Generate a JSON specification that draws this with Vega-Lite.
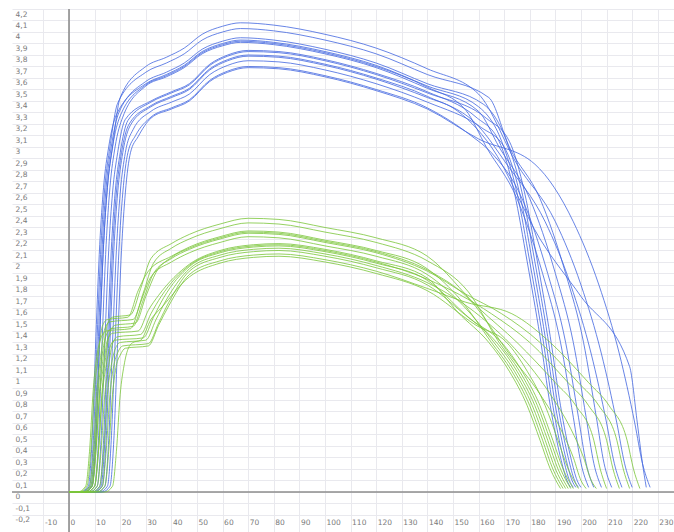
{
"$schema": "https://vega.github.io/schema/vega-lite/v6.json",
"width": 662, "height": 523,
"autosize": {"type": "none"},
"padding": {"left": 12, "top": 9, "right": 0, "bottom": 0},
"config": {"view": {"stroke": null}, "font": "DejaVu Sans"},
"datasets": {
"curves": [
{"k":"B1","x":0,"y":0},{"k":"B1","x":6,"y":0},{"k":"B1","x":9,"y":0.05},{"k":"B1","x":10.5,"y":0.45},{"k":"B1","x":12,"y":1.35},{"k":"B1","x":13.5,"y":2.15},{"k":"B1","x":15,"y":2.65},{"k":"B1","x":17,"y":3.0},{"k":"B1","x":20,"y":3.43},{"k":"B1","x":30,"y":3.70},{"k":"B1","x":38,"y":3.78},{"k":"B1","x":45,"y":3.86},{"k":"B1","x":52,"y":3.98},{"k":"B1","x":60,"y":4.05},{"k":"B1","x":67,"y":4.08},{"k":"B1","x":80,"y":4.06},{"k":"B1","x":100,"y":3.98},{"k":"B1","x":120,"y":3.86},{"k":"B1","x":140,"y":3.68},{"k":"B1","x":160,"y":3.46},{"k":"B1","x":175,"y":2.85},{"k":"B1","x":190,"y":2.35},{"k":"B1","x":200,"y":1.8},{"k":"B1","x":208,"y":1.2},{"k":"B1","x":214,"y":0.6},{"k":"B1","x":217,"y":0.25},{"k":"B1","x":220,"y":0.04},
{"k":"B2","x":0,"y":0},{"k":"B2","x":5,"y":0},{"k":"B2","x":8,"y":0.05},{"k":"B2","x":9.5,"y":0.45},{"k":"B2","x":11,"y":1.35},{"k":"B2","x":12.5,"y":2.15},{"k":"B2","x":14,"y":2.65},{"k":"B2","x":16,"y":3.0},{"k":"B2","x":19,"y":3.38},{"k":"B2","x":30,"y":3.65},{"k":"B2","x":38,"y":3.73},{"k":"B2","x":45,"y":3.81},{"k":"B2","x":52,"y":3.93},{"k":"B2","x":60,"y":4.0},{"k":"B2","x":67,"y":4.03},{"k":"B2","x":80,"y":4.01},{"k":"B2","x":100,"y":3.93},{"k":"B2","x":120,"y":3.81},{"k":"B2","x":140,"y":3.63},{"k":"B2","x":164,"y":3.43},{"k":"B2","x":172,"y":3.0},{"k":"B2","x":184,"y":2.55},{"k":"B2","x":194,"y":1.9},{"k":"B2","x":201,"y":1.3},{"k":"B2","x":206,"y":0.65},{"k":"B2","x":209,"y":0.25},{"k":"B2","x":212,"y":0.04},
{"k":"B3","x":0,"y":0},{"k":"B3","x":4.5,"y":0},{"k":"B3","x":7.5,"y":0.05},{"k":"B3","x":9,"y":0.45},{"k":"B3","x":10.5,"y":1.35},{"k":"B3","x":12,"y":2.15},{"k":"B3","x":13.5,"y":2.65},{"k":"B3","x":15.5,"y":3.0},{"k":"B3","x":18.5,"y":3.28},{"k":"B3","x":30,"y":3.55},{"k":"B3","x":38,"y":3.63},{"k":"B3","x":45,"y":3.71},{"k":"B3","x":52,"y":3.83},{"k":"B3","x":60,"y":3.9},{"k":"B3","x":67,"y":3.93},{"k":"B3","x":80,"y":3.91},{"k":"B3","x":100,"y":3.83},{"k":"B3","x":120,"y":3.71},{"k":"B3","x":140,"y":3.53},{"k":"B3","x":160,"y":3.35},{"k":"B3","x":169,"y":3.05},{"k":"B3","x":175,"y":2.6},{"k":"B3","x":180,"y":2.0},{"k":"B3","x":185,"y":1.35},{"k":"B3","x":189,"y":0.75},{"k":"B3","x":193,"y":0.3},{"k":"B3","x":195.5,"y":0.1},{"k":"B3","x":197,"y":0.04},
{"k":"B4","x":0,"y":0},{"k":"B4","x":5.5,"y":0},{"k":"B4","x":8.5,"y":0.05},{"k":"B4","x":10,"y":0.45},{"k":"B4","x":11.5,"y":1.35},{"k":"B4","x":13,"y":2.15},{"k":"B4","x":14.5,"y":2.65},{"k":"B4","x":16.5,"y":3.0},{"k":"B4","x":19.5,"y":3.30},{"k":"B4","x":30,"y":3.57},{"k":"B4","x":38,"y":3.65},{"k":"B4","x":45,"y":3.73},{"k":"B4","x":52,"y":3.85},{"k":"B4","x":60,"y":3.92},{"k":"B4","x":67,"y":3.95},{"k":"B4","x":80,"y":3.93},{"k":"B4","x":100,"y":3.85},{"k":"B4","x":120,"y":3.73},{"k":"B4","x":140,"y":3.55},{"k":"B4","x":162,"y":3.37},{"k":"B4","x":171,"y":3.05},{"k":"B4","x":177,"y":2.6},{"k":"B4","x":182,"y":2.0},{"k":"B4","x":187,"y":1.35},{"k":"B4","x":191,"y":0.75},{"k":"B4","x":195,"y":0.3},{"k":"B4","x":197.5,"y":0.1},{"k":"B4","x":199,"y":0.04},
{"k":"B5","x":0,"y":0},{"k":"B5","x":6,"y":0},{"k":"B5","x":9,"y":0.05},{"k":"B5","x":10.5,"y":0.45},{"k":"B5","x":12,"y":1.35},{"k":"B5","x":13.5,"y":2.15},{"k":"B5","x":15,"y":2.65},{"k":"B5","x":17,"y":3.0},{"k":"B5","x":20,"y":3.27},{"k":"B5","x":30,"y":3.54},{"k":"B5","x":38,"y":3.62},{"k":"B5","x":45,"y":3.70},{"k":"B5","x":52,"y":3.82},{"k":"B5","x":60,"y":3.89},{"k":"B5","x":67,"y":3.92},{"k":"B5","x":80,"y":3.90},{"k":"B5","x":100,"y":3.82},{"k":"B5","x":120,"y":3.70},{"k":"B5","x":140,"y":3.52},{"k":"B5","x":155,"y":3.32},{"k":"B5","x":163,"y":3.0},{"k":"B5","x":175,"y":2.55},{"k":"B5","x":185,"y":1.9},{"k":"B5","x":192,"y":1.3},{"k":"B5","x":197,"y":0.65},{"k":"B5","x":200,"y":0.25},{"k":"B5","x":203,"y":0.04},
{"k":"B6","x":0,"y":0},{"k":"B6","x":7,"y":0},{"k":"B6","x":10,"y":0.05},{"k":"B6","x":11.5,"y":0.45},{"k":"B6","x":13,"y":1.35},{"k":"B6","x":14.5,"y":2.15},{"k":"B6","x":16,"y":2.65},{"k":"B6","x":18,"y":3.0},{"k":"B6","x":21,"y":3.26},{"k":"B6","x":30,"y":3.53},{"k":"B6","x":38,"y":3.61},{"k":"B6","x":45,"y":3.69},{"k":"B6","x":52,"y":3.81},{"k":"B6","x":60,"y":3.88},{"k":"B6","x":67,"y":3.91},{"k":"B6","x":80,"y":3.89},{"k":"B6","x":100,"y":3.81},{"k":"B6","x":120,"y":3.69},{"k":"B6","x":140,"y":3.51},{"k":"B6","x":160,"y":3.31},{"k":"B6","x":168,"y":3.0},{"k":"B6","x":180,"y":2.55},{"k":"B6","x":190,"y":1.9},{"k":"B6","x":197,"y":1.3},{"k":"B6","x":202,"y":0.65},{"k":"B6","x":205,"y":0.25},{"k":"B6","x":208,"y":0.04},
{"k":"B7","x":0,"y":0},{"k":"B7","x":8,"y":0},{"k":"B7","x":11,"y":0.05},{"k":"B7","x":12.5,"y":0.45},{"k":"B7","x":14,"y":1.3},{"k":"B7","x":15.5,"y":2.1},{"k":"B7","x":17,"y":2.6},{"k":"B7","x":19,"y":2.95},{"k":"B7","x":22,"y":3.24},{"k":"B7","x":32,"y":3.40},{"k":"B7","x":40,"y":3.48},{"k":"B7","x":47,"y":3.55},{"k":"B7","x":55,"y":3.72},{"k":"B7","x":62,"y":3.80},{"k":"B7","x":70,"y":3.84},{"k":"B7","x":82,"y":3.83},{"k":"B7","x":100,"y":3.76},{"k":"B7","x":120,"y":3.64},{"k":"B7","x":140,"y":3.48},{"k":"B7","x":159,"y":3.26},{"k":"B7","x":168,"y":3.05},{"k":"B7","x":174,"y":2.6},{"k":"B7","x":179,"y":2.0},{"k":"B7","x":184,"y":1.35},{"k":"B7","x":188,"y":0.75},{"k":"B7","x":192,"y":0.3},{"k":"B7","x":194.5,"y":0.1},{"k":"B7","x":196,"y":0.04},
{"k":"B8","x":0,"y":0},{"k":"B8","x":9,"y":0},{"k":"B8","x":12,"y":0.05},{"k":"B8","x":13.5,"y":0.45},{"k":"B8","x":15,"y":1.3},{"k":"B8","x":16.5,"y":2.1},{"k":"B8","x":18,"y":2.6},{"k":"B8","x":20,"y":2.95},{"k":"B8","x":23,"y":3.23},{"k":"B8","x":32,"y":3.39},{"k":"B8","x":40,"y":3.47},{"k":"B8","x":47,"y":3.54},{"k":"B8","x":55,"y":3.71},{"k":"B8","x":62,"y":3.79},{"k":"B8","x":70,"y":3.83},{"k":"B8","x":82,"y":3.82},{"k":"B8","x":100,"y":3.75},{"k":"B8","x":120,"y":3.63},{"k":"B8","x":140,"y":3.47},{"k":"B8","x":163,"y":3.25},{"k":"B8","x":172,"y":3.05},{"k":"B8","x":178,"y":2.6},{"k":"B8","x":183,"y":2.0},{"k":"B8","x":188,"y":1.35},{"k":"B8","x":192,"y":0.75},{"k":"B8","x":196,"y":0.3},{"k":"B8","x":198.5,"y":0.1},{"k":"B8","x":200,"y":0.04},
{"k":"B9","x":0,"y":0},{"k":"B9","x":9.5,"y":0},{"k":"B9","x":12.5,"y":0.05},{"k":"B9","x":14,"y":0.45},{"k":"B9","x":15.5,"y":1.3},{"k":"B9","x":17,"y":2.1},{"k":"B9","x":18.5,"y":2.6},{"k":"B9","x":20.5,"y":2.95},{"k":"B9","x":23.5,"y":3.20},{"k":"B9","x":32,"y":3.36},{"k":"B9","x":40,"y":3.44},{"k":"B9","x":47,"y":3.51},{"k":"B9","x":55,"y":3.68},{"k":"B9","x":62,"y":3.76},{"k":"B9","x":70,"y":3.80},{"k":"B9","x":82,"y":3.79},{"k":"B9","x":100,"y":3.72},{"k":"B9","x":120,"y":3.60},{"k":"B9","x":140,"y":3.44},{"k":"B9","x":160,"y":3.18},{"k":"B9","x":171,"y":2.85},{"k":"B9","x":186,"y":2.35},{"k":"B9","x":196,"y":1.8},{"k":"B9","x":204,"y":1.2},{"k":"B9","x":210,"y":0.6},{"k":"B9","x":213,"y":0.25},{"k":"B9","x":216,"y":0.04},
{"k":"B10","x":0,"y":0},{"k":"B10","x":10,"y":0},{"k":"B10","x":13,"y":0.05},{"k":"B10","x":14.5,"y":0.45},{"k":"B10","x":16,"y":1.3},{"k":"B10","x":17.5,"y":2.1},{"k":"B10","x":19,"y":2.6},{"k":"B10","x":21,"y":2.95},{"k":"B10","x":24,"y":3.19},{"k":"B10","x":32,"y":3.35},{"k":"B10","x":40,"y":3.43},{"k":"B10","x":47,"y":3.50},{"k":"B10","x":55,"y":3.67},{"k":"B10","x":62,"y":3.75},{"k":"B10","x":70,"y":3.79},{"k":"B10","x":82,"y":3.78},{"k":"B10","x":100,"y":3.71},{"k":"B10","x":120,"y":3.59},{"k":"B10","x":140,"y":3.43},{"k":"B10","x":150,"y":3.34},{"k":"B10","x":165,"y":3.0},{"k":"B10","x":184,"y":2.2},{"k":"B10","x":200,"y":1.7},{"k":"B10","x":219,"y":1.09},{"k":"B10","x":222,"y":0.6},{"k":"B10","x":224,"y":0.25},{"k":"B10","x":225.5,"y":0.04},
{"k":"B11","x":0,"y":0},{"k":"B11","x":11,"y":0},{"k":"B11","x":14,"y":0.05},{"k":"B11","x":15.5,"y":0.45},{"k":"B11","x":17,"y":1.3},{"k":"B11","x":18.5,"y":2.1},{"k":"B11","x":20,"y":2.6},{"k":"B11","x":22,"y":2.95},{"k":"B11","x":25,"y":3.15},{"k":"B11","x":32,"y":3.31},{"k":"B11","x":40,"y":3.39},{"k":"B11","x":47,"y":3.46},{"k":"B11","x":55,"y":3.63},{"k":"B11","x":62,"y":3.71},{"k":"B11","x":70,"y":3.75},{"k":"B11","x":82,"y":3.74},{"k":"B11","x":100,"y":3.67},{"k":"B11","x":120,"y":3.55},{"k":"B11","x":140,"y":3.39},{"k":"B11","x":161,"y":3.17},{"k":"B11","x":170,"y":3.0},{"k":"B11","x":176,"y":2.6},{"k":"B11","x":181,"y":2.0},{"k":"B11","x":186,"y":1.35},{"k":"B11","x":190,"y":0.75},{"k":"B11","x":194,"y":0.3},{"k":"B11","x":196.5,"y":0.1},{"k":"B11","x":198,"y":0.04},
{"k":"B12","x":0,"y":0},{"k":"B12","x":12,"y":0},{"k":"B12","x":15,"y":0.05},{"k":"B12","x":16.5,"y":0.45},{"k":"B12","x":18,"y":1.3},{"k":"B12","x":19.5,"y":2.1},{"k":"B12","x":21,"y":2.6},{"k":"B12","x":23,"y":2.95},{"k":"B12","x":26,"y":3.10},{"k":"B12","x":32,"y":3.26},{"k":"B12","x":40,"y":3.34},{"k":"B12","x":47,"y":3.41},{"k":"B12","x":55,"y":3.58},{"k":"B12","x":62,"y":3.66},{"k":"B12","x":70,"y":3.70},{"k":"B12","x":82,"y":3.69},{"k":"B12","x":100,"y":3.62},{"k":"B12","x":120,"y":3.50},{"k":"B12","x":140,"y":3.34},{"k":"B12","x":157,"y":3.10},{"k":"B12","x":165,"y":2.95},{"k":"B12","x":177,"y":2.55},{"k":"B12","x":187,"y":1.9},{"k":"B12","x":194,"y":1.3},{"k":"B12","x":199,"y":0.65},{"k":"B12","x":202,"y":0.25},{"k":"B12","x":205,"y":0.04},
{"k":"B13","x":0,"y":0},{"k":"B13","x":13,"y":0},{"k":"B13","x":16,"y":0.05},{"k":"B13","x":17.5,"y":0.45},{"k":"B13","x":19,"y":1.3},{"k":"B13","x":20.5,"y":2.1},{"k":"B13","x":22,"y":2.6},{"k":"B13","x":24,"y":2.95},{"k":"B13","x":27,"y":3.09},{"k":"B13","x":32,"y":3.25},{"k":"B13","x":40,"y":3.33},{"k":"B13","x":47,"y":3.40},{"k":"B13","x":55,"y":3.57},{"k":"B13","x":62,"y":3.65},{"k":"B13","x":70,"y":3.69},{"k":"B13","x":82,"y":3.68},{"k":"B13","x":100,"y":3.61},{"k":"B13","x":120,"y":3.49},{"k":"B13","x":140,"y":3.33},{"k":"B13","x":160,"y":3.07},{"k":"B13","x":182,"y":2.85},{"k":"B13","x":197,"y":2.35},{"k":"B13","x":207,"y":1.8},{"k":"B13","x":215,"y":1.2},{"k":"B13","x":221,"y":0.6},{"k":"B13","x":224,"y":0.25},{"k":"B13","x":227,"y":0.04},
{"k":"G1","x":0,"y":0},{"k":"G1","x":6,"y":0},{"k":"G1","x":9,"y":0.05},{"k":"G1","x":10.5,"y":0.35},{"k":"G1","x":12,"y":0.9},{"k":"G1","x":13.5,"y":1.2},{"k":"G1","x":15,"y":1.46},{"k":"G1","x":17,"y":1.52},{"k":"G1","x":24,"y":1.54},{"k":"G1","x":28,"y":1.77},{"k":"G1","x":32,"y":2.03},{"k":"G1","x":40,"y":2.16},{"k":"G1","x":47,"y":2.24},{"k":"G1","x":59,"y":2.33},{"k":"G1","x":70,"y":2.38},{"k":"G1","x":82,"y":2.37},{"k":"G1","x":100,"y":2.30},{"k":"G1","x":120,"y":2.21},{"k":"G1","x":140,"y":2.05},{"k":"G1","x":160,"y":1.6},{"k":"G1","x":175,"y":1.3},{"k":"G1","x":190,"y":0.95},{"k":"G1","x":198,"y":0.75},{"k":"G1","x":205,"y":0.45},{"k":"G1","x":207.5,"y":0.2},{"k":"G1","x":210,"y":0.03},
{"k":"G2","x":0,"y":0},{"k":"G2","x":5,"y":0},{"k":"G2","x":8,"y":0.05},{"k":"G2","x":9.5,"y":0.35},{"k":"G2","x":11,"y":0.9},{"k":"G2","x":12.5,"y":1.2},{"k":"G2","x":14,"y":1.42},{"k":"G2","x":16,"y":1.48},{"k":"G2","x":25,"y":1.50},{"k":"G2","x":29,"y":1.73},{"k":"G2","x":33,"y":1.99},{"k":"G2","x":40,"y":2.12},{"k":"G2","x":47,"y":2.20},{"k":"G2","x":59,"y":2.29},{"k":"G2","x":70,"y":2.34},{"k":"G2","x":82,"y":2.33},{"k":"G2","x":100,"y":2.26},{"k":"G2","x":120,"y":2.17},{"k":"G2","x":140,"y":2.01},{"k":"G2","x":156,"y":1.74},{"k":"G2","x":168,"y":1.3},{"k":"G2","x":176,"y":1.05},{"k":"G2","x":183,"y":0.75},{"k":"G2","x":188,"y":0.45},{"k":"G2","x":192,"y":0.2},{"k":"G2","x":196,"y":0.03},
{"k":"G3","x":0,"y":0},{"k":"G3","x":4,"y":0},{"k":"G3","x":7,"y":0.05},{"k":"G3","x":8.5,"y":0.35},{"k":"G3","x":10,"y":0.9},{"k":"G3","x":11.5,"y":1.2},{"k":"G3","x":13,"y":1.44},{"k":"G3","x":15,"y":1.50},{"k":"G3","x":23,"y":1.52},{"k":"G3","x":27,"y":1.75},{"k":"G3","x":31,"y":1.92},{"k":"G3","x":40,"y":2.05},{"k":"G3","x":47,"y":2.13},{"k":"G3","x":59,"y":2.22},{"k":"G3","x":70,"y":2.27},{"k":"G3","x":82,"y":2.26},{"k":"G3","x":100,"y":2.19},{"k":"G3","x":120,"y":2.10},{"k":"G3","x":140,"y":1.94},{"k":"G3","x":153,"y":1.67},{"k":"G3","x":165,"y":1.3},{"k":"G3","x":173,"y":1.05},{"k":"G3","x":180,"y":0.75},{"k":"G3","x":185,"y":0.45},{"k":"G3","x":189,"y":0.2},{"k":"G3","x":193,"y":0.03},
{"k":"G4","x":0,"y":0},{"k":"G4","x":7,"y":0},{"k":"G4","x":10,"y":0.05},{"k":"G4","x":11.5,"y":0.35},{"k":"G4","x":13,"y":0.9},{"k":"G4","x":14.5,"y":1.2},{"k":"G4","x":16,"y":1.39},{"k":"G4","x":18,"y":1.45},{"k":"G4","x":26,"y":1.47},{"k":"G4","x":30,"y":1.70},{"k":"G4","x":34,"y":1.91},{"k":"G4","x":40,"y":2.04},{"k":"G4","x":47,"y":2.12},{"k":"G4","x":59,"y":2.21},{"k":"G4","x":70,"y":2.26},{"k":"G4","x":82,"y":2.25},{"k":"G4","x":100,"y":2.18},{"k":"G4","x":120,"y":2.09},{"k":"G4","x":140,"y":1.93},{"k":"G4","x":157,"y":1.66},{"k":"G4","x":172,"y":1.2},{"k":"G4","x":184,"y":0.85},{"k":"G4","x":192,"y":0.55},{"k":"G4","x":197,"y":0.3},{"k":"G4","x":200,"y":0.1},{"k":"G4","x":202,"y":0.03},
{"k":"G5","x":0,"y":0},{"k":"G5","x":5.5,"y":0},{"k":"G5","x":8.5,"y":0.05},{"k":"G5","x":10,"y":0.35},{"k":"G5","x":11.5,"y":0.9},{"k":"G5","x":13,"y":1.2},{"k":"G5","x":14.5,"y":1.36},{"k":"G5","x":16.5,"y":1.42},{"k":"G5","x":25,"y":1.44},{"k":"G5","x":29,"y":1.67},{"k":"G5","x":33,"y":1.90},{"k":"G5","x":40,"y":2.03},{"k":"G5","x":47,"y":2.11},{"k":"G5","x":59,"y":2.20},{"k":"G5","x":70,"y":2.25},{"k":"G5","x":82,"y":2.24},{"k":"G5","x":100,"y":2.17},{"k":"G5","x":120,"y":2.08},{"k":"G5","x":140,"y":1.92},{"k":"G5","x":155,"y":1.72},{"k":"G5","x":169,"y":1.55},{"k":"G5","x":184,"y":1.3},{"k":"G5","x":199,"y":0.95},{"k":"G5","x":207,"y":0.75},{"k":"G5","x":214,"y":0.45},{"k":"G5","x":216.5,"y":0.2},{"k":"G5","x":219,"y":0.03},
{"k":"G6","x":0,"y":0},{"k":"G6","x":3.5,"y":0},{"k":"G6","x":6.5,"y":0.05},{"k":"G6","x":8,"y":0.35},{"k":"G6","x":9.5,"y":0.9},{"k":"G6","x":11,"y":1.2},{"k":"G6","x":12.5,"y":1.34},{"k":"G6","x":14.5,"y":1.40},{"k":"G6","x":24,"y":1.42},{"k":"G6","x":28,"y":1.65},{"k":"G6","x":32,"y":1.87},{"k":"G6","x":40,"y":2.0},{"k":"G6","x":47,"y":2.08},{"k":"G6","x":59,"y":2.17},{"k":"G6","x":70,"y":2.22},{"k":"G6","x":82,"y":2.21},{"k":"G6","x":100,"y":2.14},{"k":"G6","x":120,"y":2.05},{"k":"G6","x":140,"y":1.89},{"k":"G6","x":154,"y":1.62},{"k":"G6","x":166,"y":1.3},{"k":"G6","x":174,"y":1.05},{"k":"G6","x":181,"y":0.75},{"k":"G6","x":186,"y":0.45},{"k":"G6","x":190,"y":0.2},{"k":"G6","x":194,"y":0.03},
{"k":"G7","x":0,"y":0},{"k":"G7","x":6,"y":0},{"k":"G7","x":9,"y":0.05},{"k":"G7","x":10.5,"y":0.35},{"k":"G7","x":12,"y":0.85},{"k":"G7","x":13.5,"y":1.1},{"k":"G7","x":15,"y":1.32},{"k":"G7","x":17,"y":1.38},{"k":"G7","x":27,"y":1.40},{"k":"G7","x":31,"y":1.58},{"k":"G7","x":35,"y":1.71},{"k":"G7","x":47,"y":1.98},{"k":"G7","x":59,"y":2.10},{"k":"G7","x":72,"y":2.15},{"k":"G7","x":82,"y":2.16},{"k":"G7","x":100,"y":2.11},{"k":"G7","x":120,"y":2.01},{"k":"G7","x":140,"y":1.86},{"k":"G7","x":152,"y":1.56},{"k":"G7","x":164,"y":1.3},{"k":"G7","x":172,"y":1.05},{"k":"G7","x":179,"y":0.75},{"k":"G7","x":184,"y":0.45},{"k":"G7","x":188,"y":0.2},{"k":"G7","x":192,"y":0.03},
{"k":"G8","x":0,"y":0},{"k":"G8","x":8,"y":0},{"k":"G8","x":11,"y":0.05},{"k":"G8","x":12.5,"y":0.35},{"k":"G8","x":14,"y":0.85},{"k":"G8","x":15.5,"y":1.1},{"k":"G8","x":17,"y":1.29},{"k":"G8","x":19,"y":1.35},{"k":"G8","x":28,"y":1.37},{"k":"G8","x":32,"y":1.55},{"k":"G8","x":36,"y":1.70},{"k":"G8","x":47,"y":1.97},{"k":"G8","x":59,"y":2.09},{"k":"G8","x":72,"y":2.14},{"k":"G8","x":82,"y":2.15},{"k":"G8","x":100,"y":2.10},{"k":"G8","x":120,"y":2.0},{"k":"G8","x":140,"y":1.85},{"k":"G8","x":165,"y":1.55},{"k":"G8","x":180,"y":1.3},{"k":"G8","x":195,"y":0.95},{"k":"G8","x":203,"y":0.75},{"k":"G8","x":210,"y":0.45},{"k":"G8","x":212.5,"y":0.2},{"k":"G8","x":215,"y":0.03},
{"k":"G9","x":0,"y":0},{"k":"G9","x":7,"y":0},{"k":"G9","x":10,"y":0.05},{"k":"G9","x":11.5,"y":0.35},{"k":"G9","x":13,"y":0.85},{"k":"G9","x":14.5,"y":1.1},{"k":"G9","x":16,"y":1.26},{"k":"G9","x":18,"y":1.32},{"k":"G9","x":29,"y":1.34},{"k":"G9","x":33,"y":1.52},{"k":"G9","x":37,"y":1.69},{"k":"G9","x":47,"y":1.96},{"k":"G9","x":59,"y":2.08},{"k":"G9","x":72,"y":2.13},{"k":"G9","x":82,"y":2.14},{"k":"G9","x":100,"y":2.09},{"k":"G9","x":120,"y":1.99},{"k":"G9","x":140,"y":1.84},{"k":"G9","x":155,"y":1.54},{"k":"G9","x":167,"y":1.3},{"k":"G9","x":175,"y":1.05},{"k":"G9","x":182,"y":0.75},{"k":"G9","x":187,"y":0.45},{"k":"G9","x":191,"y":0.2},{"k":"G9","x":195,"y":0.03},
{"k":"G10","x":0,"y":0},{"k":"G10","x":9,"y":0},{"k":"G10","x":12,"y":0.05},{"k":"G10","x":13.5,"y":0.35},{"k":"G10","x":15,"y":0.85},{"k":"G10","x":16.5,"y":1.1},{"k":"G10","x":18,"y":1.24},{"k":"G10","x":20,"y":1.30},{"k":"G10","x":30,"y":1.32},{"k":"G10","x":34,"y":1.50},{"k":"G10","x":38,"y":1.67},{"k":"G10","x":47,"y":1.94},{"k":"G10","x":59,"y":2.06},{"k":"G10","x":72,"y":2.11},{"k":"G10","x":82,"y":2.12},{"k":"G10","x":100,"y":2.07},{"k":"G10","x":120,"y":1.97},{"k":"G10","x":140,"y":1.82},{"k":"G10","x":161,"y":1.52},{"k":"G10","x":176,"y":1.2},{"k":"G10","x":188,"y":0.85},{"k":"G10","x":196,"y":0.55},{"k":"G10","x":201,"y":0.3},{"k":"G10","x":204,"y":0.1},{"k":"G10","x":206,"y":0.03},
{"k":"G11","x":0,"y":0},{"k":"G11","x":10,"y":0},{"k":"G11","x":13,"y":0.05},{"k":"G11","x":14.5,"y":0.35},{"k":"G11","x":16,"y":0.85},{"k":"G11","x":17.5,"y":1.1},{"k":"G11","x":19,"y":1.21},{"k":"G11","x":21,"y":1.27},{"k":"G11","x":31,"y":1.29},{"k":"G11","x":35,"y":1.47},{"k":"G11","x":39,"y":1.65},{"k":"G11","x":47,"y":1.92},{"k":"G11","x":59,"y":2.04},{"k":"G11","x":72,"y":2.09},{"k":"G11","x":82,"y":2.10},{"k":"G11","x":100,"y":2.05},{"k":"G11","x":120,"y":1.95},{"k":"G11","x":140,"y":1.80},{"k":"G11","x":157,"y":1.50},{"k":"G11","x":169,"y":1.3},{"k":"G11","x":177,"y":1.05},{"k":"G11","x":184,"y":0.75},{"k":"G11","x":189,"y":0.45},{"k":"G11","x":193,"y":0.2},{"k":"G11","x":197,"y":0.03},
{"k":"G12","x":0,"y":0},{"k":"G12","x":11,"y":0},{"k":"G12","x":14,"y":0.05},{"k":"G12","x":15.5,"y":0.35},{"k":"G12","x":17,"y":0.85},{"k":"G12","x":18.5,"y":1.1},{"k":"G12","x":20,"y":1.19},{"k":"G12","x":22,"y":1.25},{"k":"G12","x":31,"y":1.27},{"k":"G12","x":35,"y":1.45},{"k":"G12","x":39,"y":1.62},{"k":"G12","x":47,"y":1.89},{"k":"G12","x":59,"y":2.01},{"k":"G12","x":72,"y":2.06},{"k":"G12","x":82,"y":2.07},{"k":"G12","x":100,"y":2.02},{"k":"G12","x":120,"y":1.92},{"k":"G12","x":140,"y":1.77},{"k":"G12","x":155,"y":1.65},{"k":"G12","x":173,"y":1.55},{"k":"G12","x":188,"y":1.3},{"k":"G12","x":203,"y":0.95},{"k":"G12","x":211,"y":0.75},{"k":"G12","x":218,"y":0.45},{"k":"G12","x":220.5,"y":0.2},{"k":"G12","x":223,"y":0.03},
{"k":"G13","x":0,"y":0},{"k":"G13","x":14,"y":0},{"k":"G13","x":17,"y":0.05},{"k":"G13","x":18.5,"y":0.35},{"k":"G13","x":20,"y":0.85},{"k":"G13","x":21.5,"y":1.1},{"k":"G13","x":23,"y":1.24},{"k":"G13","x":25,"y":1.30},{"k":"G13","x":28,"y":1.32},{"k":"G13","x":32,"y":1.50},{"k":"G13","x":36,"y":1.60},{"k":"G13","x":47,"y":1.87},{"k":"G13","x":59,"y":1.99},{"k":"G13","x":72,"y":2.04},{"k":"G13","x":82,"y":2.05},{"k":"G13","x":100,"y":2.0},{"k":"G13","x":120,"y":1.90},{"k":"G13","x":140,"y":1.75},{"k":"G13","x":159,"y":1.45},{"k":"G13","x":171,"y":1.3},{"k":"G13","x":179,"y":1.05},{"k":"G13","x":186,"y":0.75},{"k":"G13","x":191,"y":0.45},{"k":"G13","x":195,"y":0.2},{"k":"G13","x":199,"y":0.03}
]
},
"layer": [
{
"data": {"values": [{}]},
"mark": {"type": "rule", "color": "#8c8c8c", "strokeWidth": 1.6},
"encoding": {
"x": {"datum": 0, "type": "quantitative", "scale": {"domain": [-22.27, 236.33], "nice": false, "zero": false},
"axis": {"values": [-10,0,10,20,30,40,50,60,70,80,90,100,110,120,130,140,150,160,170,180,190,200,210,220,230], "title": null, "grid": true, "gridColor": "#e9e9ee", "gridWidth": 1, "domain": false, "ticks": false, "tickSize": 0, "labelAlign": "left", "labelBaseline": "middle", "labelPadding": -10, "labelOffset": 1, "labelFontSize": 7.5, "labelColor": "#7a7a7a", "labelFont": "DejaVu Sans", "labelOverlap": false, "labelFlush": false, "labelBound": false, "labelExpr": "replace(format(datum.value, 'd'), '\u2212', '-')"}}
}
},
{
"data": {"values": [{}]},
"mark": {"type": "rule", "color": "#8c8c8c", "strokeWidth": 1.6},
"encoding": {
"y": {"datum": 0, "type": "quantitative", "scale": {"domain": [-0.348, 4.2], "nice": false, "zero": false},
"axis": {"values": [-0.2,-0.1,0,0.1,0.2,0.3,0.4,0.5,0.6,0.7,0.8,0.9,1,1.1,1.2,1.3,1.4,1.5,1.6,1.7,1.8,1.9,2,2.1,2.2,2.3,2.4,2.5,2.6,2.7,2.8,2.9,3,3.1,3.2,3.3,3.4,3.5,3.6,3.7,3.8,3.9,4,4.1,4.2], "title": null, "grid": true, "gridColor": "#e9e9ee", "gridWidth": 1, "domain": false, "ticks": false, "tickSize": 0, "labelAlign": "left", "labelBaseline": "middle", "labelPadding": -3, "labelOffset": 5, "labelFontSize": 7.5, "labelColor": "#7a7a7a", "labelFont": "DejaVu Sans", "labelOverlap": false, "labelFlush": false, "labelBound": false, "labelExpr": "replace(replace(format(datum.value, '.1~f'), '.', ','), '\u2212', '-')"}}
}
},
{
"data": {"name": "curves"},
"mark": {"type": "line", "interpolate": "monotone", "strokeWidth": 0.9, "opacity": 0.9},
"encoding": {
"x": {"field": "x", "type": "quantitative", "scale": {"domain": [-22.27, 236.33], "nice": false, "zero": false},
"axis": {"values": [-10,0,10,20,30,40,50,60,70,80,90,100,110,120,130,140,150,160,170,180,190,200,210,220,230], "title": null, "grid": true, "gridColor": "#e9e9ee", "gridWidth": 1, "domain": false, "ticks": false, "tickSize": 0, "labelAlign": "left", "labelBaseline": "middle", "labelPadding": -10, "labelOffset": 1, "labelFontSize": 7.5, "labelColor": "#7a7a7a", "labelFont": "DejaVu Sans", "labelOverlap": false, "labelFlush": false, "labelBound": false, "labelExpr": "replace(format(datum.value, 'd'), '\u2212', '-')"}},
"y": {"field": "y", "type": "quantitative", "scale": {"domain": [-0.348, 4.2], "nice": false, "zero": false},
"axis": {"values": [-0.2,-0.1,0,0.1,0.2,0.3,0.4,0.5,0.6,0.7,0.8,0.9,1,1.1,1.2,1.3,1.4,1.5,1.6,1.7,1.8,1.9,2,2.1,2.2,2.3,2.4,2.5,2.6,2.7,2.8,2.9,3,3.1,3.2,3.3,3.4,3.5,3.6,3.7,3.8,3.9,4,4.1,4.2], "title": null, "grid": true, "gridColor": "#e9e9ee", "gridWidth": 1, "domain": false, "ticks": false, "tickSize": 0, "labelAlign": "left", "labelBaseline": "middle", "labelPadding": -3, "labelOffset": 5, "labelFontSize": 7.5, "labelColor": "#7a7a7a", "labelFont": "DejaVu Sans", "labelOverlap": false, "labelFlush": false, "labelBound": false, "labelExpr": "replace(replace(format(datum.value, '.1~f'), '.', ','), '\u2212', '-')"}},
"detail": {"field": "k"},
"color": {"field": "k", "type": "nominal", "legend": null,
"scale": {"domain": ["B1","B2","B3","B4","B5","B6","B7","B8","B9","B10","B11","B12","B13","G1","G2","G3","G4","G5","G6","G7","G8","G9","G10","G11","G12","G13"],
"range": ["#4468e0","#4468e0","#4468e0","#4468e0","#4468e0","#4468e0","#4468e0","#4468e0","#4468e0","#4468e0","#4468e0","#4468e0","#4468e0","#7cc63c","#7cc63c","#7cc63c","#7cc63c","#7cc63c","#7cc63c","#7cc63c","#7cc63c","#7cc63c","#7cc63c","#7cc63c","#7cc63c","#7cc63c"]}}
}
}
]
}
